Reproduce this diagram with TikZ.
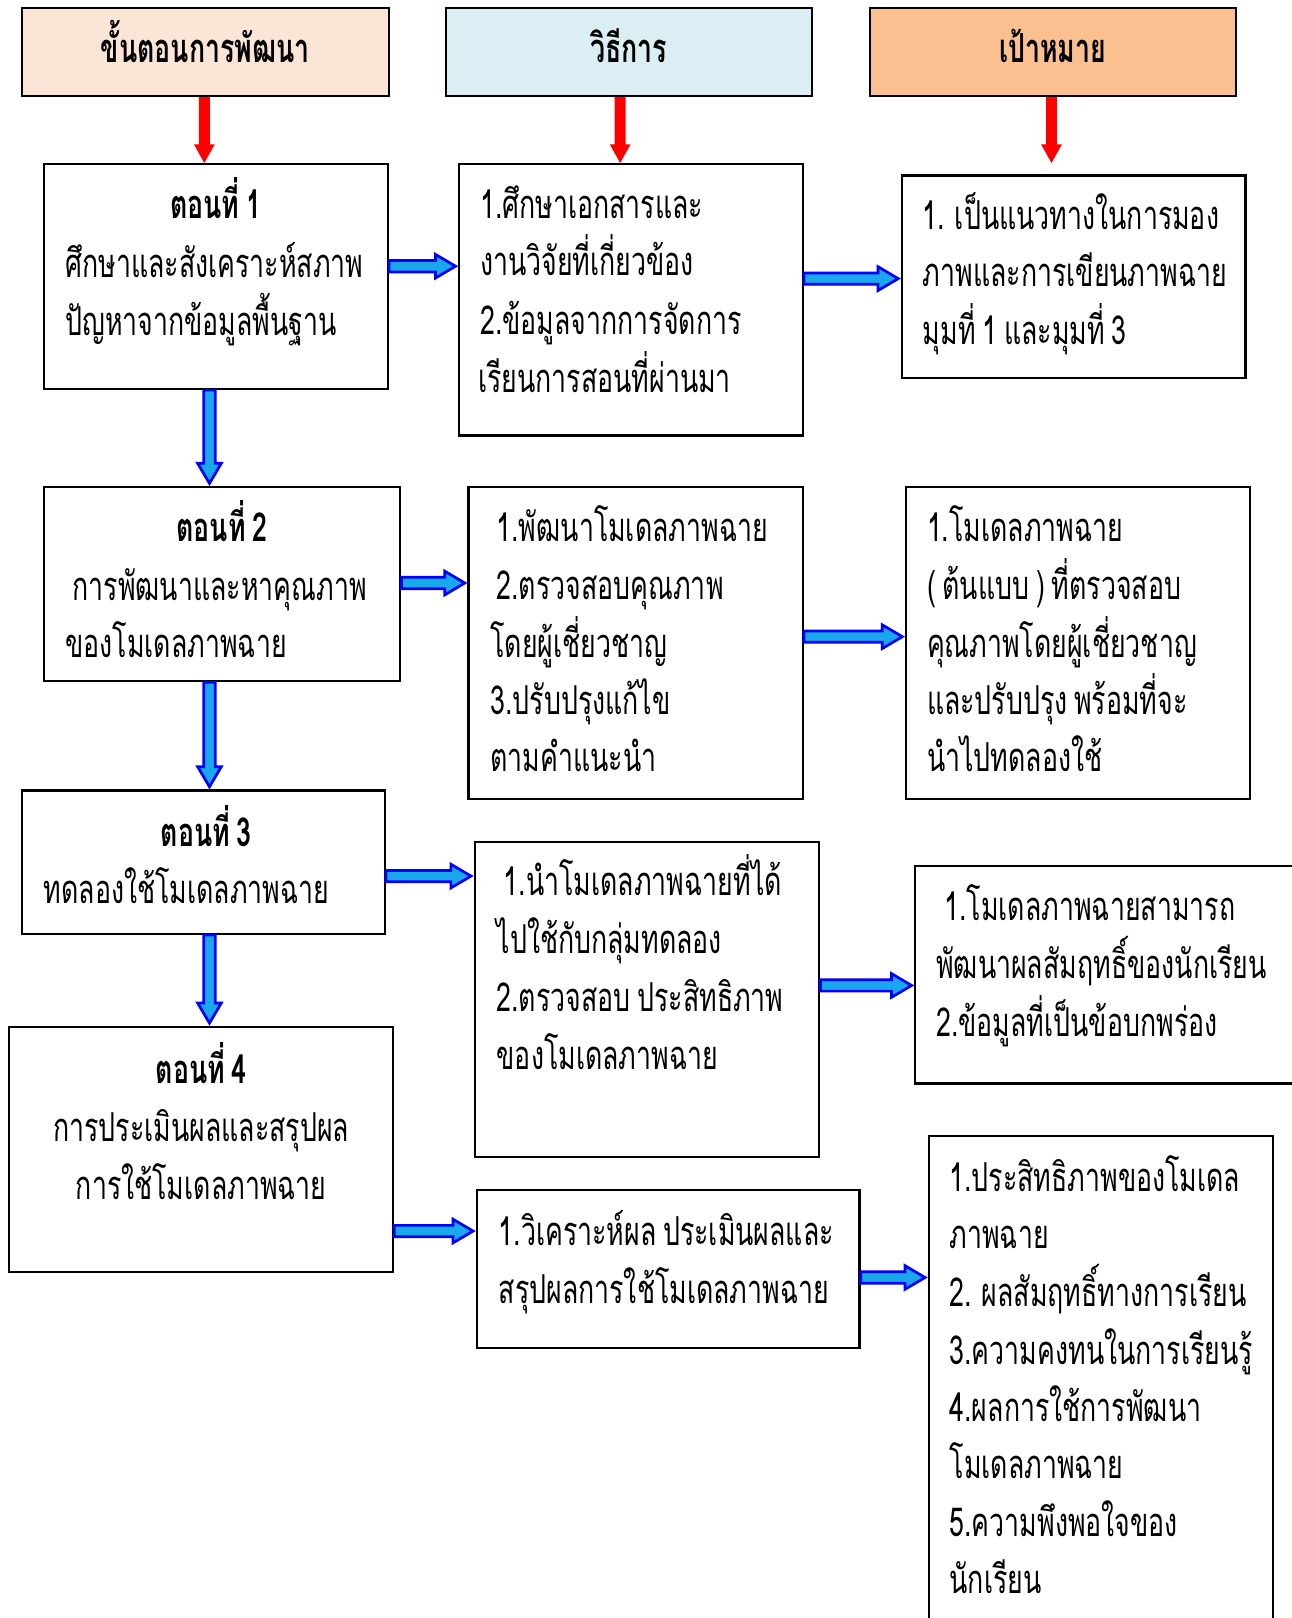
\documentclass[tikz,border=0pt]{standalone}
\usepackage{fontspec}
\setmainfont{Loma}[Script=Thai,FakeStretch=0.67,WordSpace=0.75]
\usetikzlibrary{fit,calc}
\definecolor{hdrA}{HTML}{FBE5D6}
\definecolor{hdrB}{HTML}{DAEEF3}
\definecolor{hdrC}{HTML}{FAC090}
\definecolor{arrowblue}{HTML}{0000FF}
\definecolor{arrowfill}{HTML}{1AA7EC}
\definecolor{arrowred}{HTML}{FF0000}
\tikzset{
 box/.style={draw=black, line width=1.2pt, inner sep=0pt, fill=white},
 hdr/.style={box},
 hdrtext/.style={inner sep=0pt, anchor=base, font=\fontsize{22pt}{26pt}\selectfont\bfseries},
 txt/.style={inner sep=0pt, anchor=base west, font=\fontsize{22pt}{26pt}\selectfont},
 ctr/.style={inner sep=0pt, anchor=base, font=\fontsize{22pt}{26pt}\selectfont},
 ttl/.style={inner sep=0pt, anchor=base, font=\fontsize{22pt}{26pt}\selectfont\bfseries},
 blockarrow/.style={draw=arrowblue, fill=arrowfill, line width=1.5pt, line join=miter},
 redarrow/.style={fill=arrowred, draw=none},
}
\newcommand\tl[4]{\node[txt] (#1) at (#2,#3+14) {#4};}
\newcommand\harr[3]{\path[blockarrow] let \p1=(#1.east), \p2=(#2.west), \p3=(0,#3) in
 (\x1,\y3+0.11cm) -- (\x2-0.44cm,\y3+0.11cm) -- (\x2-0.44cm,\y3+0.23cm) -- (\x2-0.05cm,\y3)
 -- (\x2-0.44cm,\y3-0.23cm) -- (\x2-0.44cm,\y3-0.11cm) -- (\x1,\y3-0.11cm) -- cycle;}
\newcommand\varr[3]{\path[blockarrow] let \p1=(#1.south), \p2=(#2.north), \p3=(#3,0) in
 (\x3-0.11cm,\y1) -- (\x3-0.11cm,\y2+0.44cm) -- (\x3-0.23cm,\y2+0.44cm) -- (\x3,\y2+0.05cm)
 -- (\x3+0.23cm,\y2+0.44cm) -- (\x3+0.11cm,\y2+0.44cm) -- (\x3+0.11cm,\y1) -- cycle;}
\newcommand\redarr[4]{\path[redarrow] let \p1=(#1.south), \p2=(#2.north), \p3=(#3,0) in
 (\x3-0.106cm,\y1) -- (\x3-0.106cm,\y2+#4+0.36cm) -- (\x3-0.2cm,\y2+#4+0.36cm) -- (\x3,\y2+#4)
 -- (\x3+0.2cm,\y2+#4+0.36cm) -- (\x3+0.106cm,\y2+#4+0.36cm) -- (\x3+0.106cm,\y1) -- cycle;}
\begin{document}
\begin{tikzpicture}[x=0.02cm,y=-0.02cm]
\useasboundingbox (0,0) rectangle (1252,1568);
\fill[white] (0,0) rectangle (1252,1568);
\clip (0,0) rectangle (1252,1568);
% headers
\node[hdr, fill=hdrA, fit={(21,8) (377,93)}] (H1) {};
\node[hdr, fill=hdrB, fit={(432,8) (787,93)}] (H2) {};
\node[hdr, fill=hdrC, fit={(843,8) (1198,93)}] (H3) {};
\node[hdrtext] (h1t) at (199,47+14) {ขั้นตอนการพัฒนา};
\node[hdrtext] (h2t) at (609,47+14) {วิธีการ};
\node[hdrtext] (h3t) at (1020,47+14) {เป้าหมาย};
% boxes
\node[box, fit={(43,159) (376,377)}] (A1) {};
\node[box, fit={(445,159) (778,422)}] (B1) {};
\node[box, fit={(874,170) (1207,366)}] (C1) {};
\node[box, fit={(43,472) (388,660)}] (A2) {};
\node[box, fit={(454,472) (778,774)}] (B2) {};
\node[box, fit={(878,472) (1211,774)}] (C2) {};
\node[box, fit={(21,766) (373,905)}] (A3) {};
\node[box, fit={(460,816) (794,1121)}] (B3) {};
\node[box, fit={(887,839) (1262,1050)}] (C3) {};
\node[box, fit={(9,995) (381,1233)}] (A4) {};
\node[box, fit={(462,1153) (833,1306)}] (B4) {};
\node[box, fit={(900,1101) (1234,1590)}] (C4) {};
% texts
\node[ttl] (a1t) at (209,198+14) {ตอนที่ 1};
\tl{a1a}{63}{255}{ศึกษาและสังเคราะห์สภาพ}
\tl{a1b}{63}{311}{ปัญหาจากข้อมูลพื้นฐาน}
\tl{b1a}{465}{198}{1.ศึกษาเอกสารและ}
\tl{b1b}{465}{253}{งานวิจัยที่เกี่ยวข้อง}
\tl{b1c}{465}{310}{2.ข้อมูลจากการจัดการ}
\tl{b1d}{463}{366}{เรียนการสอนที่ผ่านมา}
\tl{c1a}{894}{208}{1. เป็นแนวทางในการมอง}
\tl{c1b}{894}{264}{ภาพและการเขียนภาพฉาย}
\tl{c1c}{894}{320}{มุมที่ 1 และมุมที่ 3}
\node[ttl] (a2t) at (215,511+14) {ตอนที่ 2};
\tl{a2a}{70}{568}{การพัฒนาและหาคุณภาพ}
\tl{a2b}{63}{623}{ของโมเดลภาพฉาย}
\tl{b2a}{481}{511}{1.พัฒนาโมเดลภาพฉาย}
\tl{b2b}{481}{567}{2.ตรวจสอบคุณภาพ}
\tl{b2c}{475}{623}{โดยผู้เชี่ยวชาญ}
\tl{b2d}{475}{678}{3.ปรับปรุงแก้ไข}
\tl{b2e}{475}{734}{ตามคำแนะนำ}
\tl{c2a}{898}{511}{1.โมเดลภาพฉาย}
\tl{c2b}{898}{567}{( ต้นแบบ ) ที่ตรวจสอบ}
\tl{c2c}{898}{623}{คุณภาพโดยผู้เชี่ยวชาญ}
\tl{c2d}{898}{678}{และปรับปรุง พร้อมที่จะ}
\tl{c2e}{898}{734}{นำไปทดลองใช้}
\node[ttl] (a3t) at (200,806+14) {ตอนที่ 3};
\tl{a3a}{42}{862}{ทดลองใช้โมเดลภาพฉาย}
\tl{b3a}{488}{854}{1.นำโมเดลภาพฉายที่ได้}
\tl{b3b}{481}{910}{ไปใช้กับกลุ่มทดลอง}
\tl{b3c}{481}{966}{2.ตรวจสอบ ประสิทธิภาพ}
\tl{b3d}{481}{1022}{ของโมเดลภาพฉาย}
\tl{c3a}{915}{878}{1.โมเดลภาพฉายสามารถ}
\tl{c3b}{907}{934}{พัฒนาผลสัมฤทธิ์ของนักเรียน}
\tl{c3c}{907}{990}{2.ข้อมูลที่เป็นข้อบกพร่อง}
\node[ttl] (a4t) at (195,1036+14) {ตอนที่ 4};
\node[ctr] (a4a) at (195,1092+14) {การประเมินผลและสรุปผล};
\node[ctr] (a4b) at (195,1148+14) {การใช้โมเดลภาพฉาย};
\tl{b4a}{483}{1193}{1.วิเคราะห์ผล ประเมินผลและ}
\tl{b4b}{483}{1249}{สรุปผลการใช้โมเดลภาพฉาย}
\tl{c4a}{920}{1141}{1.ประสิทธิภาพของโมเดล}
\tl{c4b}{920}{1196}{ภาพฉาย}
\tl{c4c}{920}{1252}{2. ผลสัมฤทธิ์ทางการเรียน}
\tl{c4d}{920}{1308}{3.ความคงทนในการเรียนรู้}
\tl{c4e}{920}{1364}{4.ผลการใช้การพัฒนา}
\tl{c4f}{920}{1419}{โมเดลภาพฉาย}
\tl{c4g}{920}{1475}{5.ความพึงพอใจของ}
\tl{c4h}{920}{1530}{นักเรียน}
% red arrows
\redarr{H1}{A1}{198}{0pt}
\redarr{H2}{B1}{601}{0pt}
\redarr{H3}{C1}{1019}{0.22cm}
% blue arrows
\harr{A1}{B1}{258}
\harr{B1}{C1}{270}
\harr{A2}{B2}{565}
\harr{B2}{C2}{617}
\harr{A3}{B3}{849}
\harr{B3}{C3}{955}
\harr{A4}{B4}{1193}
\harr{B4}{C4}{1238}
\varr{A1}{A2}{203}
\varr{A2}{A3}{203}
\varr{A3}{A4}{203}
\end{tikzpicture}
\end{document}
